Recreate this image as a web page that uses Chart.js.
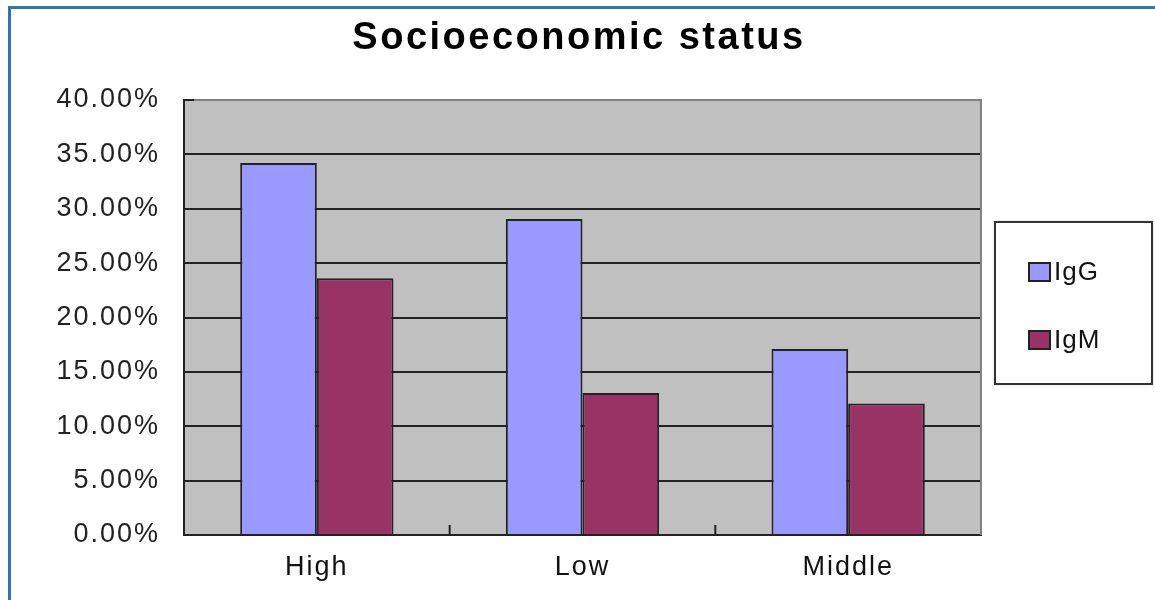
<!DOCTYPE html>
<html>
<head>
<meta charset="utf-8">
<script src="https://cdn.jsdelivr.net/npm/chart.js@4/dist/chart.umd.min.js"></script>
<style>
  html, body { margin: 0; padding: 0; background: #fff; }
  #wrap { position: relative; width: 1155px; height: 600px; }
  #frame { position: absolute; left: 8px; top: 6px; right: 0; bottom: 0;
           border-top: 3px solid #2e75b6; border-left: 3px solid #2e75b6; }
  canvas { position: absolute; left: 0; top: 0; }
</style>
</head>
<body>
<div id="wrap">
  <div id="frame"></div>
  <canvas id="chart" width="1155" height="600"></canvas>
</div>
<script>
// chart data
const chartTitle = "Socioeconomic status";
const categories = ["High", "Low", "Middle"];
const seriesNames = ["IgG", "IgM"];
const igG = [34.2, 29.05, 17.1];
const igM = [23.6, 13.05, 12.1];
const yTicks = [0, 5, 10, 15, 20, 25, 30, 35, 40];

const colors = ["#9999ff", "#993366"];
const fontName = "Arial, 'Liberation Sans', sans-serif";

// a bit wider letter spacing like the original picture
const spacing = {
    id: "spacing",
    beforeUpdate(chart) { chart.ctx.letterSpacing = "2px"; },
    beforeDraw(chart) { chart.ctx.letterSpacing = "2px"; }
};

// gray plot background + gray frame + small inward tick marks
const plotArea = {
    id: "plotArea",
    beforeDraw(chart) {
        const { ctx, chartArea: a } = chart;
        ctx.save();
        ctx.fillStyle = "#c0c0c0";
        ctx.fillRect(a.left, a.top, a.right - a.left, a.bottom - a.top);
        ctx.restore();
    },
    beforeDatasetsDraw(chart) {
        const { ctx, chartArea: a } = chart;
        ctx.save();
        ctx.strokeStyle = "#808080";
        ctx.lineWidth = 2;
        ctx.beginPath();
        ctx.moveTo(a.left, a.top);
        ctx.lineTo(a.right, a.top);
        ctx.lineTo(a.right, a.bottom);
        ctx.stroke();
        ctx.restore();
    },
    afterDraw(chart) {
        const { ctx, chartArea: a, scales } = chart;
        ctx.save();
        ctx.strokeStyle = "#222";
        ctx.lineWidth = 2;
        ctx.beginPath();
        const yTop = scales.y.getPixelForValue(yTicks[yTicks.length - 1]);
        ctx.moveTo(a.left, yTop);
        ctx.lineTo(a.left + 10, yTop);
        for (let i = 1; i < categories.length; i++) {
            const x = (scales.x.getPixelForValue(i - 1) + scales.x.getPixelForValue(i)) / 2;
            ctx.moveTo(x, a.bottom);
            ctx.lineTo(x, a.bottom - 10);
        }
        ctx.stroke();

        // title, centred on the whole picture
        ctx.letterSpacing = "2.5px";
        ctx.fillStyle = "#000";
        ctx.font = "bold 38px " + fontName;
        ctx.textAlign = "center";
        ctx.textBaseline = "alphabetic";
        ctx.fillText(chartTitle, 579, 49);
        ctx.restore();
    }
};

// boxed legend on the right
const boxLegend = {
    id: "boxLegend",
    afterDraw(chart) {
        const { ctx } = chart;
        const bx = 995, by = 222, bw = 157, bh = 162;
        ctx.save();
        ctx.fillStyle = "#fff";
        ctx.shadowColor = "rgba(0,0,0,0.35)";
        ctx.shadowBlur = 3;
        ctx.fillRect(bx, by, bw, bh);
        ctx.shadowColor = "transparent";
        ctx.strokeStyle = "#333";
        ctx.lineWidth = 2;
        ctx.strokeRect(bx, by, bw, bh);
        ctx.letterSpacing = "1px";
        ctx.font = "26px " + fontName;
        ctx.textBaseline = "middle";
        chart.data.datasets.forEach((ds, i) => {
            const cy = 272 + i * 68;
            ctx.fillStyle = ds.backgroundColor;
            ctx.fillRect(1029, cy - 9, 21, 18);
            ctx.strokeStyle = "#222";
            ctx.lineWidth = 2;
            ctx.strokeRect(1029, cy - 9, 21, 18);
            ctx.fillStyle = "#111";
            ctx.fillText(ds.label, 1054, cy + 1);
        });
        ctx.restore();
    }
};

const ctx = document.getElementById("chart").getContext("2d");
new Chart(ctx, {
    type: "bar",
    data: {
        labels: categories,
        datasets: [
            { label: seriesNames[0], data: igG, backgroundColor: colors[0] },
            { label: seriesNames[1], data: igM, backgroundColor: colors[1] }
        ]
    },
    options: {
        responsive: false,
        animation: false,
        layout: { padding: { left: 10, right: 174, top: 100, bottom: 0 } },
        datasets: {
            bar: {
                borderColor: "#222",
                borderWidth: 2,
                categoryPercentage: 0.577,
                barPercentage: 1
            }
        },
        plugins: {
            legend: { display: false },
            tooltip: { enabled: false },
            title: { display: false }
        },
        scales: {
            x: {
                afterFit(scale) { scale.height = 65; },
                grid: { display: false, drawTicks: false },
                border: { color: "#222", width: 2 },
                ticks: {
                    color: "#111",
                    padding: 16,
                    font: { family: fontName, size: 27 }
                }
            },
            y: {
                min: 0,
                max: 40,
                afterFit(scale) { scale.width = 174; },
                afterBuildTicks(scale) { scale.ticks = yTicks.map(v => ({ value: v })); },
                grid: {
                    drawTicks: false,
                    lineWidth: 2,
                    color: c => (c.tick && c.tick.value === yTicks[yTicks.length - 1]) ? "rgba(0,0,0,0)" : "#222"
                },
                border: { color: "#222", width: 2 },
                ticks: {
                    color: "#222",
                    padding: 24,
                    font: { family: fontName, size: 27 },
                    callback: v => v.toFixed(2) + "%"
                }
            }
        }
    },
    plugins: [spacing, plotArea, boxLegend]
});
</script>
</body>
</html>
